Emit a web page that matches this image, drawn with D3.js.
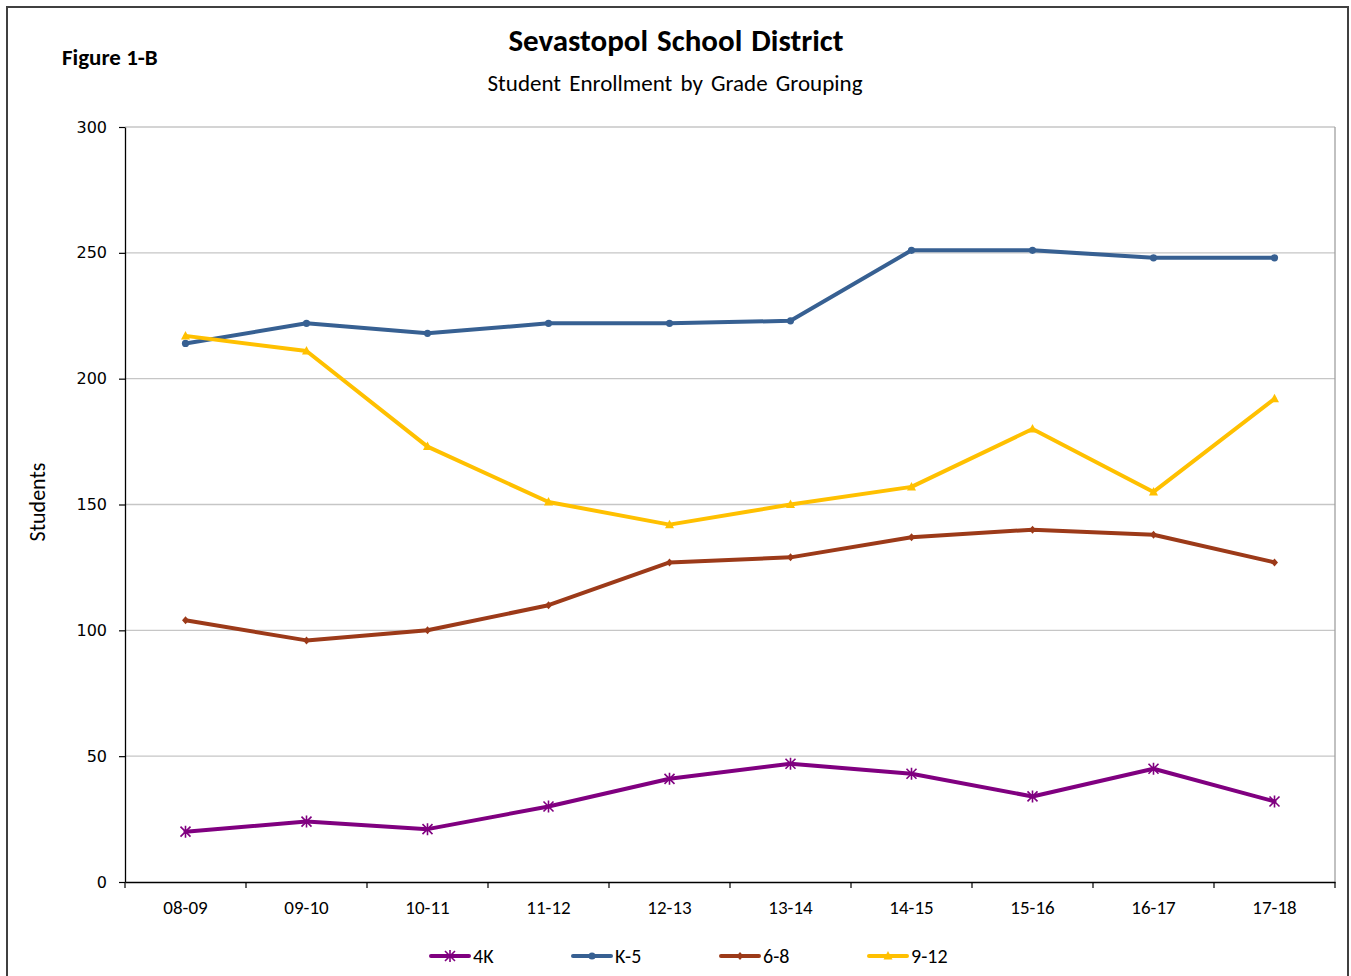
<!DOCTYPE html>
<html><head><meta charset="utf-8">
<script src="https://cdn.jsdelivr.net/npm/d3@7"></script>
<style>body{margin:0;background:#fff}svg{display:block}</style>
</head><body>
<script>
const categories = ["08-09","09-10","10-11","11-12","12-13","13-14","14-15","15-16","16-17","17-18"];
const k4 = [20,24,21,30,41,47,43,34,45,32];
const k5 = [214,222,218,222,222,223,251,251,248,248];
const g68 = [104,96,100,110,127,129,137,140,138,127];
const g912 = [217,211,173,151,142,150,157,180,155,192];
const yTicks = [0,50,100,150,200,250,300];
const seriesNames = ["4K","K-5","6-8","9-12"];

const series = [
  {name:seriesNames[0], values:k4, color:"#800080", marker:"star"},
  {name:seriesNames[1], values:k5, color:"#376092", marker:"circle"},
  {name:seriesNames[2], values:g68, color:"#9c3a19", marker:"diamond"},
  {name:seriesNames[3], values:g912, color:"#ffc000", marker:"triangle"}
];

const W=1351,H=976;
const cal = "Carlito, 'Liberation Sans Narrow', 'Open Sans', sans-serif";
const svg = d3.select("body").append("svg").attr("width",W).attr("height",H);
svg.append("rect").attr("width",W).attr("height",H).attr("fill","#fff");
svg.append("rect").attr("x",7).attr("y",7).attr("width",1341).attr("height",990)
  .attr("fill","none").attr("stroke","#404040").attr("stroke-width",2);

const L=125,R=1335,T=127,B=882;
const x = d3.scaleBand().domain(categories).range([L,R]);
const y = d3.scaleLinear().domain([0,300]).range([B,T]);

// gridlines
svg.append("g").selectAll("line").data(yTicks.filter(d=>d>0)).join("line")
  .attr("x1",L).attr("x2",R).attr("y1",d=>y(d)).attr("y2",d=>y(d))
  .attr("stroke","#c6c6c6").attr("stroke-width",1.3);
// right border
svg.append("line").attr("x1",R).attr("x2",R).attr("y1",T).attr("y2",B).attr("stroke","#a0a0a0").attr("stroke-width",1.3);

// y axis
const ya = svg.append("g").attr("transform",`translate(${L},0)`)
  .call(d3.axisLeft(y).tickValues(yTicks).tickSize(6).tickSizeOuter(0));
ya.select(".domain").attr("stroke","#000").attr("stroke-width",1.3);
ya.selectAll(".tick line").attr("stroke","#000").attr("stroke-width",1.2);
ya.selectAll("text").attr("font-family","'DejaVu Sans', Verdana, sans-serif").attr("font-size",16).attr("fill","#000").attr("dx","-9");

// x axis
const xa = svg.append("g").attr("transform",`translate(0,${B})`)
  .call(d3.axisBottom(x).tickSize(0).tickSizeOuter(0));
xa.select(".domain").attr("stroke","#000").attr("stroke-width",1.3);
xa.selectAll("text").attr("font-family",cal).attr("font-size",19).attr("fill","#000").attr("dy","1.5em");
svg.append("g").selectAll("line").data(d3.range(categories.length+1)).join("line")
  .attr("x1",i=>L+i*x.step()).attr("x2",i=>L+i*x.step())
  .attr("y1",B).attr("y2",B+6).attr("stroke","#000").attr("stroke-width",1.2);

// markers
function drawMarker(g, type, color, cx, cy){
  if(type==="circle"){
    g.append("circle").attr("cx",cx).attr("cy",cy).attr("r",3.6).attr("fill",color);
  } else if(type==="star"){
    const s=5;
    const p=`M${cx-s},${cy-s}L${cx+s},${cy+s}M${cx-s},${cy+s}L${cx+s},${cy-s}M${cx},${cy-s-1}L${cx},${cy+s+1}`;
    g.append("path").attr("d",p).attr("stroke",color).attr("stroke-width",1.6).attr("fill","none");
  } else if(type==="diamond"){
    g.append("path").attr("d",`M${cx},${cy-4}L${cx+3.5},${cy}L${cx},${cy+4}L${cx-3.5},${cy}Z`).attr("fill",color);
  } else if(type==="triangle"){
    g.append("path").attr("d",`M${cx},${cy-5}L${cx+4.5},${cy+3.5}L${cx-4.5},${cy+3.5}Z`).attr("fill",color);
  }
}

const line = d3.line().x((d,i)=>x(categories[i])+x.bandwidth()/2).y(d=>y(d));
series.forEach(s=>{
  const g = svg.append("g");
  g.append("path").attr("d",line(s.values)).attr("fill","none").attr("stroke",s.color)
    .attr("stroke-width",4).attr("stroke-linejoin","round").attr("stroke-linecap","round");
  s.values.forEach((v,i)=>drawMarker(g,s.marker,s.color,x(categories[i])+x.bandwidth()/2,y(v)));
});

// titles
svg.append("text").attr("x",676).attr("y",51).attr("text-anchor","middle")
  .attr("font-family",cal).attr("font-weight","bold").attr("font-size",31).attr("word-spacing",2).text("Sevastopol School District");
svg.append("text").attr("x",675).attr("y",91).attr("text-anchor","middle")
  .attr("font-family",cal).attr("font-size",23).attr("word-spacing",3).text("Student Enrollment by Grade Grouping");
svg.append("text").attr("x",62).attr("y",65)
  .attr("font-family",cal).attr("font-weight","bold").attr("font-size",23).text("Figure 1-B");
svg.append("text").attr("transform","translate(45,502) rotate(-90)").attr("text-anchor","middle")
  .attr("font-family",cal).attr("font-size",22).text("Students");

// legend
const legX=[431,573,721,869];
series.forEach((s,i)=>{
  const g=svg.append("g");
  const x0=legX[i], yy=956;
  g.append("line").attr("x1",x0).attr("x2",x0+38).attr("y1",yy).attr("y2",yy)
    .attr("stroke",s.color).attr("stroke-width",4).attr("stroke-linecap","round");
  drawMarker(g,s.marker,s.color,x0+19,yy);
  g.append("text").attr("x",x0+42).attr("y",yy+7).attr("font-family",cal).attr("font-size",20).text(s.name);
});
</script>
</body></html>
